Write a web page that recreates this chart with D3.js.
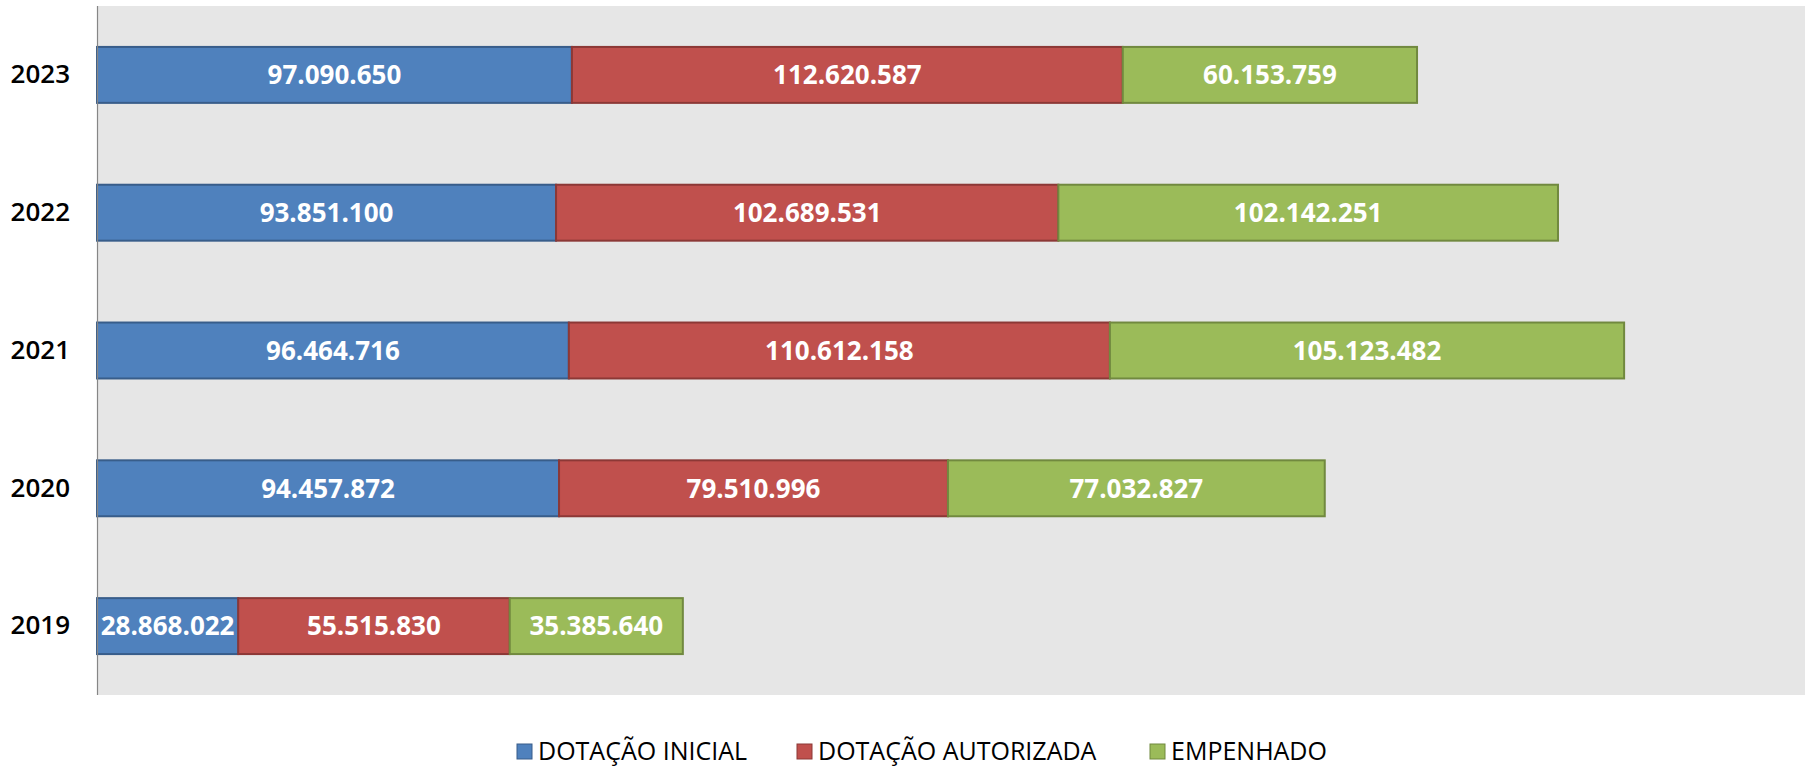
<!DOCTYPE html>
<html>
<head>
<meta charset="utf-8">
<script src="https://cdn.jsdelivr.net/npm/d3@7"></script>
<style>
  body { margin: 0; background: #fff; }
  text { font-family: "Open Sans", "DejaVu Sans", sans-serif; }
</style>
</head>
<body>
<svg id="chart"></svg>
<script>
// categories (top to bottom) and series values
var years = ["2023", "2022", "2021", "2020", "2019"];
var series = ["DOTAÇÃO INICIAL", "DOTAÇÃO AUTORIZADA", "EMPENHADO"];
var dotacaoInicial    = [97090650, 93851100, 96464716, 94457872, 28868022];
var dotacaoAutorizada = [112620587, 102689531, 110612158, 79510996, 55515830];
var empenhado         = [60153759, 102142251, 105123482, 77032827, 35385640];

var fills   = ["#4F81BD", "#C0504D", "#9BBB59"];
var strokes = ["#385D8A", "#8C3836", "#71893F"];

var width = 1810, height = 768;
var plot = { left: 97, top: 6, right: 1805, bottom: 695 };

var svg = d3.select("#chart").attr("width", width).attr("height", height);

// build stacked table
var rows = years.map(function(y, i) {
  return { year: y, s0: dotacaoInicial[i], s1: dotacaoAutorizada[i], s2: empenhado[i] };
});
var stacked = d3.stack().keys(["s0", "s1", "s2"])(rows);

var x = d3.scaleLinear().domain([0, 350000000]).range([plot.left, 1809]);
var y = d3.scaleBand().domain(years).range([plot.top, plot.bottom])
  .paddingInner(0.594).paddingOuter(0.297);

var fmt = d3.formatLocale({ decimal: ",", thousands: ".", grouping: [3], currency: ["", ""] }).format(",d");

// plot background
svg.append("rect")
  .attr("x", plot.left).attr("y", plot.top)
  .attr("width", plot.right - plot.left).attr("height", plot.bottom - plot.top)
  .attr("fill", "#E6E6E6");

// bars
var layers = svg.selectAll(".layer")
  .data(stacked)
  .enter().append("g")
  .attr("class", "layer");

layers.selectAll("rect")
  .data(function(d, i) { return d.map(function(p) { return { p: p, k: i }; }); })
  .enter().append("rect")
  .attr("x", function(d) { return x(d.p[0]); })
  .attr("y", function(d) { return y(d.p.data.year); })
  .attr("width", function(d) { return x(d.p[1]) - x(d.p[0]); })
  .attr("height", y.bandwidth())
  .attr("fill", function(d) { return fills[d.k]; })
  .attr("stroke", function(d) { return strokes[d.k]; })
  .attr("stroke-width", 2);

layers.selectAll("text")
  .data(function(d) { return d; })
  .enter().append("text")
  .attr("x", function(d) { return (x(d[0]) + x(d[1])) / 2; })
  .attr("y", function(d) { return y(d.data.year) + y.bandwidth() / 2; })
  .attr("dy", "0.36em")
  .attr("text-anchor", "middle")
  .attr("fill", "#fff")
  .attr("font-size", 26)
  .attr("font-weight", "bold")
  .text(function(d) { return fmt(d[1] - d[0]); });

// category axis
var yAxis = svg.append("g")
  .attr("transform", "translate(" + plot.left + ",0)")
  .call(d3.axisLeft(y).tickSize(0).tickPadding(27));
yAxis.select(".domain").attr("stroke", "#868686").attr("stroke-width", 1.2)
  .attr("d", "M0.5," + plot.top + "V" + plot.bottom);
yAxis.selectAll("text")
  .attr("font-size", 26)
  .attr("font-weight", 600)
  .attr("fill", "#000")
  .style("font-family", "'Open Sans', sans-serif");

// legend
var legendX = [517, 797, 1150];
var legend = svg.selectAll(".legend")
  .data(series)
  .enter().append("g")
  .attr("class", "legend")
  .attr("transform", function(d, i) { return "translate(" + legendX[i] + ",744)"; });

legend.append("rect")
  .attr("width", 15).attr("height", 15)
  .attr("fill", function(d, i) { return fills[i]; })
  .attr("stroke", function(d, i) { return strokes[i]; })
  .attr("stroke-width", 1);

legend.append("text")
  .attr("x", 21)
  .attr("y", 16)
  .attr("font-size", 25)
  .attr("font-weight", 500)
  .attr("fill", "#000")
  .text(function(d) { return d; });
</script>
</body>
</html>
